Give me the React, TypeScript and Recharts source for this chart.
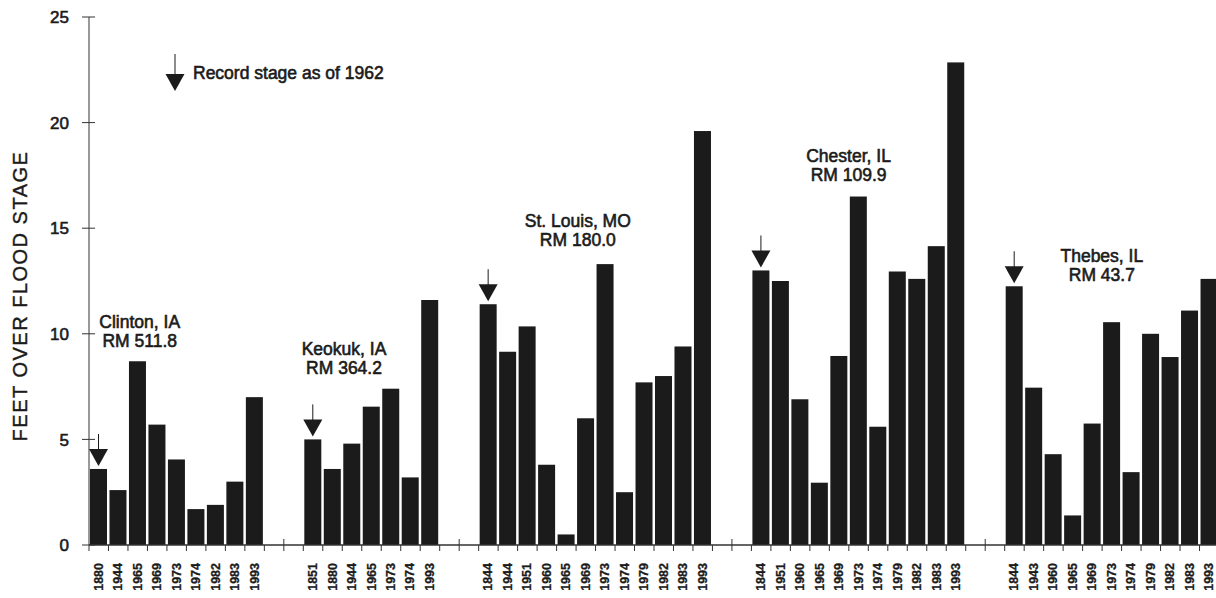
import React from 'react';
import { BarChart, Bar, XAxis, YAxis, ReferenceDot, Customized } from 'recharts';

const CHART_W = 1219;
const CHART_H = 598;
const AXIS_X = 89;
const FONT = '"Liberation Sans", Arial, Helvetica, sans-serif';
const INK = '#1b1b1b';

// ---- data ----
const clintonYears = ['1880', '1944', '1965', '1969', '1973', '1974', '1982', '1983', '1993'];
const clintonValues = [3.6, 2.6, 8.7, 5.7, 4.05, 1.7, 1.9, 3.0, 7.0];

const keokukYears = ['1851', '1880', '1944', '1965', '1973', '1974', '1993'];
const keokukValues = [5.0, 3.6, 4.8, 6.55, 7.4, 3.2, 11.6];

const stLouisYears = ['1844', '1944', '1951', '1960', '1965', '1969', '1973', '1974', '1979', '1982', '1983', '1993'];
const stLouisValues = [11.4, 9.15, 10.35, 3.8, 0.5, 6.0, 13.3, 2.5, 7.7, 8.0, 9.4, 19.6];

const chesterYears = ['1844', '1951', '1960', '1965', '1969', '1973', '1974', '1979', '1982', '1983', '1993'];
const chesterValues = [13.0, 12.5, 6.9, 2.95, 8.95, 16.5, 5.6, 12.95, 12.6, 14.15, 22.85];

const thebesYears = ['1844', '1943', '1960', '1965', '1969', '1973', '1974', '1979', '1982', '1983', '1993'];
const thebesValues = [12.25, 7.45, 4.3, 1.4, 5.75, 10.55, 3.45, 10.0, 8.9, 11.1, 12.6];

const siteNames = ['Clinton, IA', 'Keokuk, IA', 'St. Louis, MO', 'Chester, IL', 'Thebes, IL'];
const siteRiverMiles = ['RM 511.8', 'RM 364.2', 'RM 180.0', 'RM 109.9', 'RM 43.7'];
const siteLabelBarIndex = [2, 2, 5, 5, 5];
const siteLabelValue = [10.27, 9.0, 15.06, 18.13, 13.4];
const siteLabelShift = [2, -8, -8, -10, -10];

const yTicks = [0, 5, 10, 15, 20, 25];
const legendText = 'Record stage as of 1962';
const yTitle = 'FEET OVER FLOOD STAGE';

// ---- table ----
type Row = { key: string; year: string; value: number | null; record: boolean; gapMid: boolean };
const groups = [
  { years: clintonYears, values: clintonValues },
  { years: keokukYears, values: keokukValues },
  { years: stLouisYears, values: stLouisValues },
  { years: chesterYears, values: chesterValues },
  { years: thebesYears, values: thebesValues },
];
const data: Row[] = [];
groups.forEach((g, gi) => {
  if (gi > 0) {
    data.push({ key: `gap${gi}a`, year: '', value: null, record: false, gapMid: false });
    data.push({ key: `gap${gi}b`, year: '', value: null, record: false, gapMid: true });
  }
  g.years.forEach((y, i) =>
    data.push({ key: `s${gi}-${i}`, year: y, value: g.values[i], record: i === 0, gapMid: false })
  );
});
const byKey = new Map(data.map((d) => [d.key, d]));
const SLOT = (CHART_W - AXIS_X) / data.length;

const textStyle = { fontFamily: FONT, fill: INK, stroke: INK, strokeWidth: 0.6 };

const BarShape = (props: any) => {
  const { x, y, width, height } = props;
  if (height == null || height <= 0) return null;
  const rec = props.payload?.record ?? props.record;
  const cx = x + width / 2;
  return (
    <g>
      <rect x={x} y={y} width={width} height={height} fill={INK} />
      {rec && (
        <g>
          <line x1={cx} x2={cx} y1={y - 35} y2={y - 19} stroke={INK} strokeWidth={1} />
          <polygon points={`${cx - 9.5},${y - 20} ${cx + 9.5},${y - 20} ${cx},${y - 3}`} fill={INK} />
        </g>
      )}
    </g>
  );
};

const XTick = (props: any) => {
  const { x, y, payload } = props;
  const row = byKey.get(payload.value);
  const bx = x - SLOT / 2;
  const lx = x + 4;
  const ly = y + 18;
  return (
    <g>
      <line x1={bx} x2={bx} y1={row?.gapMid ? y - 6 : y} y2={y + 6} stroke="#333" strokeWidth={1} />
      {row?.year ? (
        <text
          x={lx}
          y={ly}
          transform={`rotate(-90 ${lx} ${ly})`}
          textAnchor="end"
          fontSize={12.5}
          fontWeight="bold"
          style={{ fontFamily: FONT }}
          fill={INK}
          stroke={INK}
          strokeWidth={0.3}
        >
          {row.year}
        </text>
      ) : null}
    </g>
  );
};

const YTick = (props: any) => {
  const { x, y, payload } = props;
  return (
    <g>
      <line x1={x - 7} x2={x + 6} y1={y} y2={y} stroke="#333" strokeWidth={1} />
      <text x={x - 20} y={y} dy="0.36em" textAnchor="end" fontSize={17} {...textStyle}>
        {payload.value}
      </text>
    </g>
  );
};

const Decorations = () => (
  <g>
    <line x1={175} x2={175} y1={54} y2={75} stroke={INK} strokeWidth={1} />
    <polygon points="165.5,74 184.5,74 175,91" fill={INK} />
    <text x={193} y={79} fontSize={17.5} {...textStyle}>
      {legendText}
    </text>
    <text
      x={27}
      y={296}
      transform="rotate(-90 27 296)"
      textAnchor="middle"
      fontSize={20}
      letterSpacing={1.5}
      {...textStyle}
      strokeWidth={0.4}
    >
      {yTitle}
    </text>
  </g>
);

export default function App() {
  return (
    <div style={{ position: 'absolute', left: 0, top: 0, width: 1216, height: 598, overflow: 'hidden', background: '#fff' }}>
      <BarChart
        width={CHART_W}
        height={CHART_H}
        data={data}
        margin={{ top: 17, right: 0, left: 0, bottom: 0 }}
        barCategoryGap={1}
      >
        <XAxis
          dataKey="key"
          interval={0}
          height={53}
          axisLine={{ stroke: '#333', strokeWidth: 1.5 }}
          tickLine={false}
          tickSize={0}
          tickMargin={0}
          tick={<XTick />}
        />
        <YAxis
          width={AXIS_X}
          domain={[0, 25]}
          ticks={yTicks}
          interval={0}
          axisLine={{ stroke: '#333', strokeWidth: 1 }}
          tickLine={false}
          tickSize={0}
          tickMargin={0}
          tick={<YTick />}
        />
        <Bar dataKey="value" isAnimationActive={false} shape={<BarShape />} />
        {siteNames.map((name, i) => (
          <ReferenceDot
            key={name}
            x={`s${i}-${siteLabelBarIndex[i]}`}
            y={siteLabelValue[i]}
            r={0}
            shape={(p: any) => (
              <g>
                <text x={p.cx + siteLabelShift[i]} y={p.cy} textAnchor="middle" fontSize={17.5} {...textStyle}>
                  {name}
                </text>
                <text x={p.cx + siteLabelShift[i]} y={p.cy + 19} textAnchor="middle" fontSize={17.5} {...textStyle}>
                  {siteRiverMiles[i]}
                </text>
              </g>
            )}
          />
        ))}
        <Customized component={Decorations} />
      </BarChart>
    </div>
  );
}
